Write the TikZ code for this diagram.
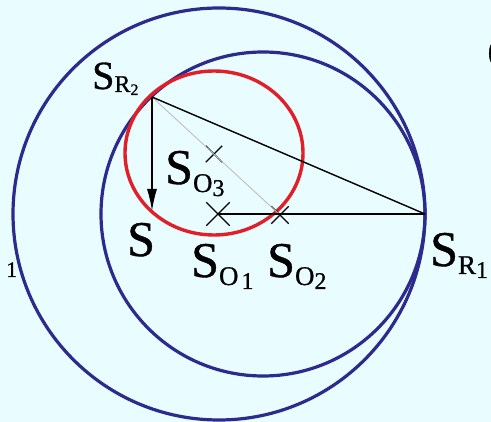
\documentclass[tikz,border=0pt]{standalone}
\usepackage{fontspec}
\setmainfont{Liberation Serif}
\newfontfamily\tms[FakeBold=0.8]{Liberation Serif}
\usetikzlibrary{arrows.meta,shapes.misc}
\definecolor{bgc}{RGB}{233,252,255}
\definecolor{navy}{RGB}{44,42,140}
\definecolor{redc}{RGB}{226,30,40}
\newcommand\Slab[2]{\tms\fontsize{50}{50}\selectfont S\raisebox{-8pt}{\fontsize{27}{27}\selectfont #1\raisebox{-4pt}{\fontsize{24}{24}\selectfont #2}}}
\newcommand\Slabsmall[2]{\tms\fontsize{40}{40}\selectfont S\raisebox{-3pt}{\fontsize{24}{24}\selectfont #1\raisebox{-3pt}{\fontsize{16}{16}\selectfont #2}}}
\tikzset{
  bluecirc/.style={draw=navy,line width=3.2pt},
  redcirc/.style={draw=redc,line width=3.4pt},
  blk/.style={draw=black,line width=1.4pt},
  xmark/.style={cross out,draw=black,line width=1.4pt,inner sep=0pt},
  lab/.style={anchor=base west,inner sep=0pt,text=black,font=\tms}
}
\begin{document}
\begin{tikzpicture}[x=1pt,y=-1pt]
\useasboundingbox (0,0) rectangle (491,422);
\fill[bgc] (0,0) rectangle (491,422);
% circles
\draw[bluecirc] (219,214) circle[radius=206pt];
\draw[bluecirc] (263,214) circle[radius=162pt];
\draw[redcirc] (214,153) ellipse[x radius=89pt,y radius=82pt];
% points
\coordinate (SR2) at (152,97);
\coordinate (SR1) at (425,214);
\coordinate (S) at (152,211);
\node[xmark,minimum size=22pt] (SO1) at (218,214) {};
\node[xmark,minimum size=16pt] (SO2) at (280,215) {};
\node[xmark,minimum size=15pt] (SO3) at (214,154) {};
% lines
\draw[gray!50,line width=0.9pt] (SR2) -- (SO2.center);
\draw[blk] (SR2) -- (SR1);
\draw[blk] (SO1.center) -- (SR1);
\draw[blk,-{Latex[length=22pt,width=10pt]}] (SR2) -- (S);
% labels
\node[lab] (lS) at (127,256) {\fontsize{50}{50}\selectfont S};
\node[lab] (lSO1) at (191,277) {\Slab{O}{\kern3pt 1}};
\node[lab] (lSO2) at (267,277) {\Slab{O}{2}};
\node[lab] (lSO3) at (165,184) {\Slab{O}{3}};
\node[lab] (lSR1) at (430,266) {\Slab{R}{1}};
\node[lab] (lSR2) at (92,89) {\Slabsmall{R}{2}};
\node[lab] (lone) at (6,277) {\fontsize{22}{22}\selectfont 1};
\node[lab] (lC) at (487,69) {\fontsize{48}{48}\selectfont C};
\end{tikzpicture}
\end{document}
